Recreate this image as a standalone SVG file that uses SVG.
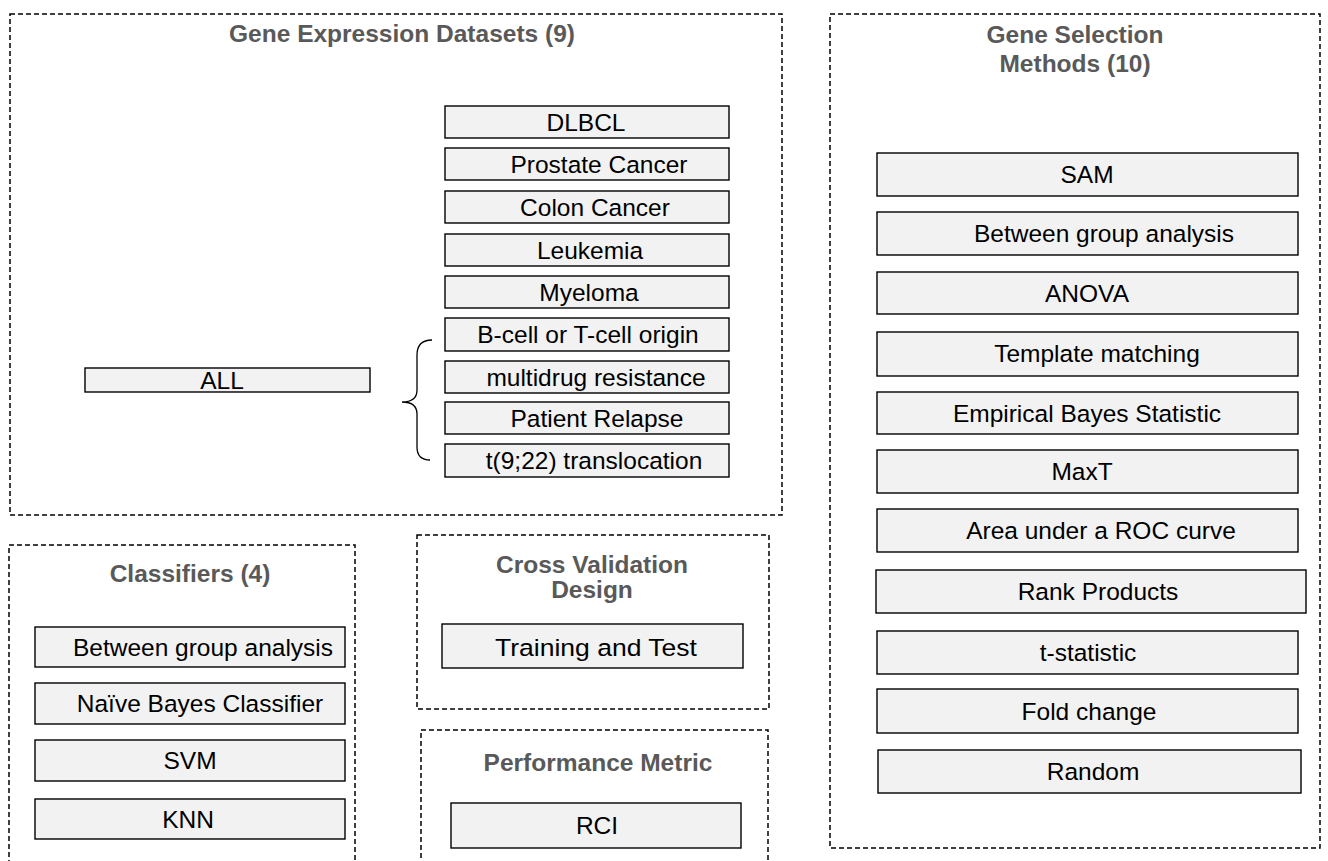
<svg xmlns="http://www.w3.org/2000/svg" width="1328" height="861" viewBox="0 0 1328 861">
<style>
  .grp { fill: none; stroke: #000; stroke-width: 1.5; stroke-dasharray: 5 3; }
  .title { font-family: "Liberation Sans", Arial, sans-serif; font-weight: bold; font-size: 24.5px; fill: #595959; text-anchor: middle; }
  .box { fill: #f2f2f2; stroke: #000; stroke-width: 1.4; }
  .lbl { font-family: "Liberation Sans", Arial, sans-serif; font-size: 24.5px; fill: #000; text-anchor: middle; }
  .brace { fill: none; stroke: #000; stroke-width: 1.3; }
</style>
<rect width="1328" height="861" fill="#fff"/>

<g id="gene-expression">
  <rect class="grp" x="10" y="14" width="772" height="501"/>
  <text class="title" x="402" y="42">Gene Expression Datasets (9)</text>
</g>
<g id="dlbcl"><rect class="box" x="445" y="106" width="284" height="32"/><text class="lbl" x="586" y="131">DLBCL</text></g>
<g id="prostate"><rect class="box" x="445" y="148" width="284" height="32"/><text class="lbl" x="599" y="173">Prostate Cancer</text></g>
<g id="colon"><rect class="box" x="445" y="191" width="284" height="32"/><text class="lbl" x="595" y="216">Colon Cancer</text></g>
<g id="leukemia"><rect class="box" x="445" y="234" width="284" height="32"/><text class="lbl" x="590" y="259">Leukemia</text></g>
<g id="myeloma"><rect class="box" x="445" y="276" width="284" height="32"/><text class="lbl" x="589" y="301">Myeloma</text></g>
<g id="bcell"><rect class="box" x="445" y="318" width="284" height="33"/><text class="lbl" x="588" y="343">B-cell or T-cell origin</text></g>
<g id="multidrug"><rect class="box" x="445" y="361" width="284" height="32"/><text class="lbl" x="596" y="386">multidrug resistance</text></g>
<g id="relapse"><rect class="box" x="445" y="402" width="284" height="32"/><text class="lbl" x="597" y="427">Patient Relapse</text></g>
<g id="translocation"><rect class="box" x="445" y="444" width="284" height="33"/><text class="lbl" x="594" y="469">t(9;22) translocation</text></g>
<g id="all"><rect class="box" x="85" y="368" width="285" height="24"/><text class="lbl" x="222" y="389">ALL</text></g>

<g id="gene-selection">
  <rect class="grp" x="830" y="14" width="490" height="834"/>
  <text class="title" x="1075" y="43">Gene Selection</text>
  <text class="title" x="1075" y="72">Methods (10)</text>
</g>
<g id="sam"><rect class="box" x="877" y="153" width="421" height="43"/><text class="lbl" x="1087" y="183">SAM</text></g>
<g id="bga"><rect class="box" x="877" y="212" width="421" height="43"/><text class="lbl" x="1104" y="242">Between group analysis</text></g>
<g id="anova"><rect class="box" x="877" y="272" width="421" height="42"/><text class="lbl" x="1087" y="302">ANOVA</text></g>
<g id="template"><rect class="box" x="877" y="332" width="421" height="44"/><text class="lbl" x="1097" y="362">Template matching</text></g>
<g id="ebs"><rect class="box" x="877" y="392" width="421" height="42"/><text class="lbl" x="1087" y="422">Empirical Bayes Statistic</text></g>
<g id="maxt"><rect class="box" x="877" y="450" width="421" height="43"/><text class="lbl" x="1082" y="480">MaxT</text></g>
<g id="auc"><rect class="box" x="877" y="509" width="421" height="43"/><text class="lbl" x="1101" y="539">Area under a ROC curve</text></g>
<g id="rank"><rect class="box" x="876" y="570" width="430" height="43"/><text class="lbl" x="1098" y="600">Rank Products</text></g>
<g id="tstat"><rect class="box" x="877" y="631" width="421" height="43"/><text class="lbl" x="1088" y="661">t-statistic</text></g>
<g id="fold"><rect class="box" x="877" y="689" width="421" height="44"/><text class="lbl" x="1089" y="720">Fold change</text></g>
<g id="random"><rect class="box" x="878" y="750" width="423" height="43"/><text class="lbl" x="1093" y="780">Random</text></g>

<g id="classifiers">
  <rect class="grp" x="9" y="545" width="346" height="330"/>
  <text class="title" x="190" y="582">Classifiers (4)</text>
</g>
<g id="c-bga"><rect class="box" x="35" y="627" width="310" height="40"/><text class="lbl" x="203" y="656">Between group analysis</text></g>
<g id="c-nb"><rect class="box" x="35" y="683" width="310" height="41"/><text class="lbl" x="200" y="712">Naïve Bayes Classifier</text></g>
<g id="c-svm"><rect class="box" x="35" y="740" width="310" height="41"/><text class="lbl" x="190" y="769">SVM</text></g>
<g id="c-knn"><rect class="box" x="35" y="799" width="310" height="40"/><text class="lbl" x="188" y="828">KNN</text></g>

<g id="cross-validation">
  <rect class="grp" x="417" y="535" width="352" height="174"/>
  <text class="title" x="592" y="573" font-size="26">Cross Validation</text>
  <text class="title" x="592" y="598" font-size="26">Design</text>
</g>
<g id="training"><rect class="box" x="442" y="624" width="301" height="44"/><text class="lbl" x="596" y="656" font-size="29" textLength="202" lengthAdjust="spacingAndGlyphs">Training and Test</text></g>

<g id="performance">
  <rect class="grp" x="421" y="730" width="347" height="145"/>
  <text class="title" x="598" y="771">Performance Metric</text>
</g>
<g id="rci"><rect class="box" x="451" y="803" width="290" height="45"/><text class="lbl" x="597" y="834">RCI</text></g>

<g id="connectors">
  <path class="brace" d="M432,340 Q417,340 417,355 L417,390 Q417,402 402,402 Q417,402 417,414 L417,447 Q417,460 430,460"/>
</g>
</svg>
